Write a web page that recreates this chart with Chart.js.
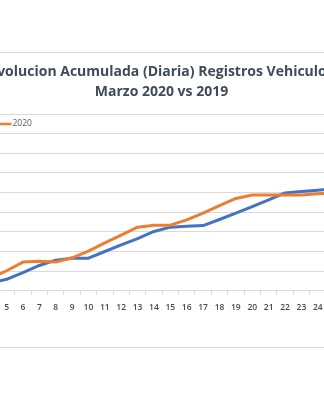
<!DOCTYPE html>
<html>
<head>
<meta charset="utf-8">
<script src="https://cdn.jsdelivr.net/npm/chart.js@4.4.1/dist/chart.umd.min.js"></script>
<style>
  html, body { margin: 0; padding: 0; background: #fff; }
  body { width: 324px; height: 400px; position: relative; overflow: hidden; }
  /* chart frame: only top and bottom edges fall inside the window */
  #marco { position: absolute; left: -10px; top: 52px; width: 344px; height: 296px; box-sizing: border-box; border: 1px solid #d9d9d9; }
  #grafico { position: absolute; left: -24px; top: 53px; }
</style>
</head>
<body>
<div id="marco"></div>
<canvas id="grafico" width="371" height="294"></canvas>
<script>
  'use strict';

  // Dias de marzo y registros acumulados por dia.
  var dias = ['4', '5', '6', '7', '8', '9', '10', '11', '12', '13', '14', '15',
    '16', '17', '18', '19', '20', '21', '22', '23', '24', '25'];
  var registros2019 = [780, 1170, 1860, 2580, 3120, 3320, 3320, 4000, 4680, 5320, 6040,
    6480, 6580, 6640, 7260, 7900, 8580, 9260, 9960, 10100, 10240, 10400];
  var registros2020 = [1260, 2040, 2920, 3020, 2920, 3360, 4040, 4880, 5660, 6480, 6680,
    6680, 7220, 7900, 8680, 9400, 9760, 9760, 9760, 9760, 9880, 9960];
  var pasoEje = 2000;
  var maximoEje = 18000;

  var azul = '#4472c4';
  var naranja = '#ed7d31';
  var gris = '#d9d9d9';
  var texto = '#595959';

  // Legend drawn as line samples inside the plot, Excel style.
  var leyendaLineas = {
    id: 'leyendaLineas',
    afterDraw: function (chart) {
      var ctx = chart.ctx;
      var x = chart.chartArea.left - 25;
      var y = chart.chartArea.top + 10;
      ctx.save();
      ctx.font = '8.5px "Open Sans"';
      ctx.textBaseline = 'middle';
      chart.data.datasets.forEach(function (ds) {
        ctx.strokeStyle = ds.borderColor;
        ctx.lineWidth = 2.5;
        ctx.beginPath();
        ctx.moveTo(x, y);
        ctx.lineTo(x + 13, y);
        ctx.stroke();
        ctx.fillStyle = texto;
        ctx.fillText(ds.label, x + 14, y);
        x += 14 + ctx.measureText(ds.label).width + 8;
      });
      ctx.restore();
    }
  };

  var ctx = document.getElementById('grafico').getContext('2d');
  new Chart(ctx, {
    type: 'line',
    data: {
      labels: dias,
      datasets: [
        {
          label: '2019',
          data: registros2019,
          borderColor: azul,
          backgroundColor: azul,
          borderWidth: 3,
          borderJoinStyle: 'round',
          pointRadius: 0,
          tension: 0,
          order: 1
        },
        {
          label: '2020',
          data: registros2020,
          borderColor: naranja,
          backgroundColor: naranja,
          borderWidth: 3,
          borderJoinStyle: 'round',
          pointRadius: 0,
          tension: 0,
          order: 0
        }
      ]
    },
    options: {
      responsive: false,
      animation: false,
      layout: { padding: { bottom: 26 } },
      plugins: {
        legend: { display: false },
        tooltip: { enabled: false },
        title: {
          display: true,
          text: ['Evolucion Acumulada (Diaria) Registros Vehiculos', 'Marzo 2020 vs 2019'],
          color: '#404b5a',
          font: { family: 'Open Sans', size: 14, weight: 'bold', lineHeight: '20px' },
          padding: { top: 9, bottom: 12 }
        }
      },
      scales: {
        x: {
          offset: true,
          grid: { offset: true, drawOnChartArea: false, drawTicks: true, tickLength: 4, color: gris },
          border: { color: gris },
          ticks: {
            autoSkip: false,
            maxRotation: 0,
            padding: 8,
            color: '#454c57',
            font: { family: 'Open Sans', size: 8.5, weight: '600' }
          }
        },
        y: {
          min: 0,
          max: maximoEje,
          afterFit: function (scale) { scale.width = 6; },
          grid: { color: gris, drawTicks: false },
          border: { display: false },
          ticks: { display: false, stepSize: pasoEje }
        }
      }
    },
    plugins: [leyendaLineas]
  });
</script>
</body>
</html>
